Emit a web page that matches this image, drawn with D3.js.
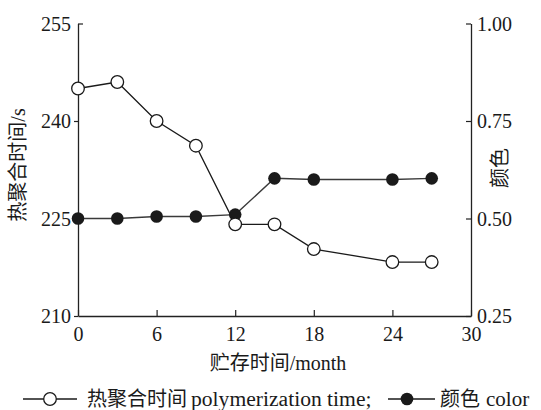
<!DOCTYPE html>
<html>
<head>
<meta charset="utf-8">
<script src="https://cdn.jsdelivr.net/npm/d3@7"></script>
<style>
  html, body { margin: 0; padding: 0; background: #fff; }
  svg { display: block; }
  text { font-family: "Liberation Serif", "Noto Sans CJK SC", serif; fill: #1a1a1a; }
</style>
</head>
<body>
<svg id="chart" width="541" height="410"></svg>
<script>
// Storage time in months
const months = [0, 3, 6, 9, 12, 15, 18, 24, 27];
// Heat polymerization time (s), left axis
const polymerTime = [245, 246, 240, 236.2, 224.1, 224.1, 220.3, 218.3, 218.3];
// Colour value, right axis
const colorValue = [0.50, 0.50, 0.505, 0.505, 0.51, 0.603, 0.60, 0.60, 0.603];

const xTicks = [0, 6, 12, 18, 24, 30];
const leftTicks = [210, 225, 240, 255];
const rightTicks = [0.25, 0.50, 0.75, 1.00];

const svg = d3.select("#chart");
const plot = { left: 78, right: 471, top: 23.5, bottom: 316 };

const x = d3.scaleLinear().domain([0, 30]).range([plot.left, plot.right]);
const yL = d3.scaleLinear().domain([210, 255]).range([plot.bottom, plot.top]);
const yR = d3.scaleLinear().domain([0.25, 1.00]).range([plot.bottom, plot.top]);

const axisColor = "#222";

// Bottom axis: ticks point into the plot
const gx = svg.append("g")
  .attr("transform", `translate(0,${plot.bottom})`)
  .call(d3.axisBottom(x).tickValues(xTicks).tickSize(-6).tickSizeOuter(0).tickPadding(11));
gx.selectAll("text").attr("font-size", 20);

// Left axis: outward ticks, top tick turned inward
const gl = svg.append("g")
  .attr("transform", `translate(${plot.left},0)`)
  .call(d3.axisLeft(yL).tickValues(leftTicks).tickSize(4).tickSizeOuter(0).tickPadding(3));
gl.selectAll("text").attr("font-size", 20).attr("dy", "0.34em");
gl.selectAll(".tick").filter(d => d === 255).select("line").attr("x2", 5);

// Right axis: ticks point into the plot
const gr = svg.append("g")
  .attr("transform", `translate(${plot.right},0)`)
  .call(d3.axisRight(yR).tickValues(rightTicks).tickSize(-5).tickSizeOuter(0).tickPadding(6)
    .tickFormat(d3.format(".2f")));
gr.selectAll("text").attr("font-size", 20).attr("dy", "0.34em");

[gx, gl, gr].forEach(g => {
  g.selectAll("path.domain").attr("stroke", axisColor).attr("stroke-width", 1.3);
  g.selectAll(".tick line").attr("stroke", axisColor).attr("stroke-width", 1.2);
  g.selectAll("text").attr("fill", "#1a1a1a").attr("font-family", "Liberation Serif, serif");
});

// Axis titles
svg.append("text")
  .attr("transform", `translate(25,165) rotate(-90)`)
  .attr("text-anchor", "middle")
  .attr("font-size", 20)
  .text("热聚合时间/s");

svg.append("text")
  .attr("transform", `translate(507,168) rotate(-90)`)
  .attr("text-anchor", "middle")
  .attr("font-size", 20)
  .text("颜色");

svg.append("text")
  .attr("x", 278).attr("y", 370)
  .attr("text-anchor", "middle")
  .attr("font-size", 20)
  .text("贮存时间/month");

const rows = months.map((m, i) => ({ m, t: polymerTime[i], c: colorValue[i] }));

// Colour series (filled markers)
svg.append("path")
  .datum(rows)
  .attr("fill", "none").attr("stroke", "#3a3a3a").attr("stroke-width", 1.4)
  .attr("d", d3.line().x(d => x(d.m)).y(d => yR(d.c)));
svg.append("g").selectAll("circle").data(rows).join("circle")
  .attr("cx", d => x(d.m)).attr("cy", d => yR(d.c)).attr("r", 6.3)
  .attr("fill", "#1a1a1a");

// Polymerization time series (open markers)
svg.append("path")
  .datum(rows)
  .attr("fill", "none").attr("stroke", "#1a1a1a").attr("stroke-width", 1.3)
  .attr("d", d3.line().x(d => x(d.m)).y(d => yL(d.t)));
svg.append("g").selectAll("circle").data(rows).join("circle")
  .attr("cx", d => x(d.m)).attr("cy", d => yL(d.t)).attr("r", 6.3)
  .attr("fill", "#fff").attr("stroke", "#1a1a1a").attr("stroke-width", 1.3);

// Legend
const ly = 399;
const legend = svg.append("g");
legend.append("line").attr("x1", 23).attr("x2", 77).attr("y1", ly).attr("y2", ly)
  .attr("stroke", "#1a1a1a").attr("stroke-width", 1.3);
legend.append("circle").attr("cx", 50).attr("cy", ly).attr("r", 6.3)
  .attr("fill", "#fff").attr("stroke", "#1a1a1a").attr("stroke-width", 1.3);
legend.append("text").attr("x", 87).attr("y", ly + 7).attr("font-size", 20).text("热聚合时间");
legend.append("text").attr("x", 191).attr("y", ly + 7).attr("font-size", 21.6).text("polymerization time;");
legend.append("line").attr("x1", 388).attr("x2", 435).attr("y1", ly).attr("y2", ly)
  .attr("stroke", "#1a1a1a").attr("stroke-width", 1.3);
legend.append("circle").attr("cx", 407).attr("cy", ly).attr("r", 6.3).attr("fill", "#1a1a1a");
legend.append("text").attr("x", 440).attr("y", ly + 7).attr("font-size", 20).text("颜色");
legend.append("text").attr("x", 486).attr("y", ly + 7).attr("font-size", 21).text("color");
</script>
</body>
</html>
